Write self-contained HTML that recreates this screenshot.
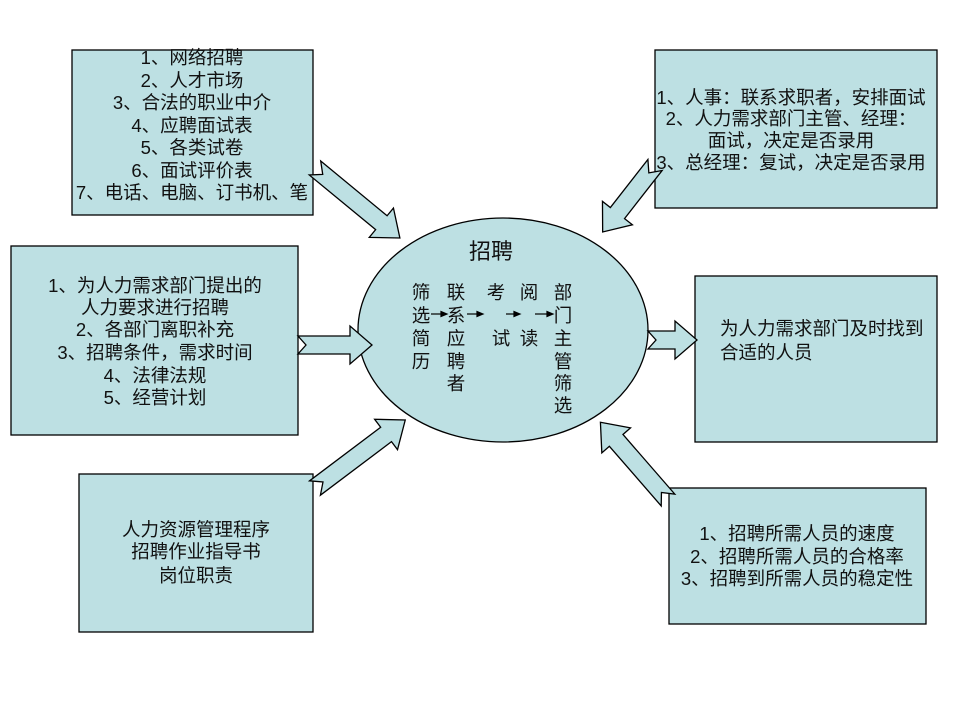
<!DOCTYPE html>
<html><head><meta charset="utf-8"><style>
html,body{margin:0;padding:0;background:#fff;}
svg text{font-family:"Liberation Sans","Noto Sans CJK SC",sans-serif;font-size:18.5px;fill:#111;}
</style></head><body>
<svg width="960" height="720" viewBox="0 0 960 720" xmlns="http://www.w3.org/2000/svg">
<g fill="#bde0e3" stroke="#000" stroke-width="1.3">
<rect x="72" y="50" width="241" height="165"/>
<rect x="11" y="246" width="287" height="189"/>
<rect x="79" y="474" width="234" height="158"/>
<rect x="655" y="50" width="282" height="158"/>
<rect x="695" y="276" width="242" height="166"/>
<rect x="669" y="488" width="257" height="136"/>
<ellipse cx="503" cy="330" rx="145" ry="112"/>
<polygon transform="translate(315,168) rotate(39.5)" points="0,-9 86,-9 86,-19 110,0 86,19 86,9 0,9 10,0"/>
<polygon transform="translate(298,345)" points="0,-9 52,-9 52,-19 74,0 52,19 52,9 0,9 8,0"/>
<polygon transform="translate(315,488) rotate(-37)" points="0,-9 89,-9 89,-19 113,0 89,19 89,9 0,9 10,0"/>
<polygon transform="translate(655,165) rotate(128)" points="0,-9 61,-9 61,-19 85,0 61,19 61,9 0,9 10,0"/>
<polygon transform="translate(648,340)" points="0,-9 27,-9 27,-19 49,0 27,19 27,9 0,9 8,0"/>
<polygon transform="translate(668,500) rotate(-131)" points="0,-9 79,-9 79,-19 103,0 79,19 79,9 0,9 10,0"/>
</g>
<g text-anchor="middle">
<text x="192" y="64">1、网络招聘</text>
<text x="192" y="87">2、人才市场</text>
<text x="192" y="109">3、合法的职业中介</text>
<text x="192" y="132">4、应聘面试表</text>
<text x="192" y="154">5、各类试卷</text>
<text x="192" y="177">6、面试评价表</text>
<text x="192" y="199">7、电话、电脑、订书机、笔</text>

<text x="155" y="292">1、为人力需求部门提出的</text>
<text x="155" y="314">人力要求进行招聘</text>
<text x="155" y="336">2、各部门离职补充</text>
<text x="155" y="359">3、招聘条件，需求时间</text>
<text x="155" y="382">4、法律法规</text>
<text x="155" y="404">5、经营计划</text>

<text x="196" y="536">人力资源管理程序</text>
<text x="196" y="558">招聘作业指导书</text>
<text x="196" y="582">岗位职责</text>

<text x="791" y="104">1、人事：联系求职者，安排面试</text>
<text x="791" y="125">2、人力需求部门主管、经理：</text>
<text x="791" y="147">面试，决定是否录用</text>
<text x="791" y="169">3、总经理：复试，决定是否录用</text>

<text x="797" y="540">1、招聘所需人员的速度</text>
<text x="797" y="563">2、招聘所需人员的合格率</text>
<text x="797" y="585">3、招聘到所需人员的稳定性</text>

<text x="491" y="259" style="font-size:22px">招聘</text>

<text x="421" y="299">筛</text><text x="421" y="322">选</text><text x="421" y="345">简</text><text x="421" y="368">历</text>
<text x="456" y="299">联</text><text x="456" y="322">系</text><text x="456" y="345">应</text><text x="456" y="368">聘</text><text x="456" y="390">者</text>
<text x="496" y="299">考</text><text x="501" y="345">试</text>
<text x="529" y="299">阅</text><text x="529" y="345">读</text>
<text x="563" y="299">部</text><text x="563" y="322">门</text><text x="563" y="345">主</text><text x="563" y="368">管</text><text x="563" y="390">筛</text><text x="563" y="412">选</text>
</g>
<text x="720" y="335">为人力需求部门及时找到</text>
<text x="720" y="359">合适的人员</text>
<g stroke="#000" stroke-width="1.2" fill="#000">
<line x1="431" y1="314" x2="442" y2="314"/><polygon points="447,314 441,311.5 441,316.5"/>
<line x1="467" y1="314" x2="478" y2="314"/><polygon points="483,314 477,311.5 477,316.5"/>
<line x1="506" y1="314" x2="515" y2="314"/><polygon points="520,314 514,311.5 514,316.5"/>
<line x1="535" y1="314" x2="548" y2="314"/><polygon points="553,314 547,311.5 547,316.5"/>
</g>
</svg>
</body></html>
